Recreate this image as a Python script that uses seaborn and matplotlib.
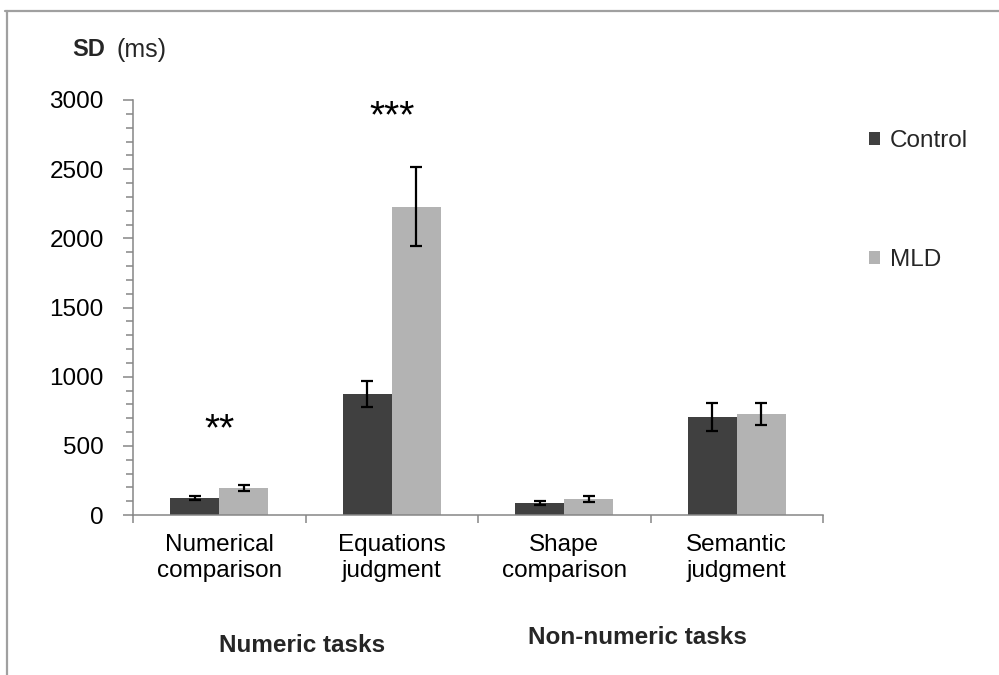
import matplotlib
matplotlib.use("Agg")
import matplotlib.pyplot as plt
from matplotlib.lines import Line2D
from matplotlib.patches import Patch
from matplotlib.ticker import MultipleLocator, FixedLocator
import seaborn as sns
import pandas as pd
import numpy as np

# Response-time variability per task and group
tasks = ["Numerical\ncomparison", "Equations\njudgment", "Shape\ncomparison", "Semantic\njudgment"]
groups = ["Control", "MLD"]
control_sd = [120, 875, 85, 710]
mld_sd = [195, 2230, 115, 728]
control_err = [15, 92, 15, 100]
mld_err = [20, 285, 22, 80]
significance = ["**", "***", "", ""]
star_height = [615, 2873, 0, 0]
y_ticks = [0, 500, 1000, 1500, 2000, 2500, 3000]
task_families = ["Numeric tasks", "Non-numeric tasks"]

colors = {"Control": "#404040", "MLD": "#b3b3b3"}
axis_grey = "#868686"
FS = 17.5

sns.set_theme(style="white")
plt.rcParams["font.family"] = ["Liberation Sans", "DejaVu Sans"]

df = pd.DataFrame({
    "task": tasks * 2,
    "group": ["Control"] * 4 + ["MLD"] * 4,
    "sd": control_sd + mld_sd,
    "err": control_err + mld_err,
})

fig = plt.figure(figsize=(9.99, 6.75), dpi=100)
ax = fig.add_axes([133 / 999, 1 - 515 / 675, 690 / 999, 415 / 675])

sns.barplot(data=df, x="task", y="sd", hue="group", order=tasks, hue_order=groups,
            palette=colors, errorbar=None, width=0.57, saturation=1,
            linewidth=0, ax=ax, legend=False)

# error bars placed on the centres of the drawn bars
bars = [p for p in ax.patches if p.get_height() > 0]
bars_sorted = sorted(bars, key=lambda p: p.get_x())
errs = []
vals = []
for i in range(len(tasks)):
    errs += [control_err[i], mld_err[i]]
    vals += [control_sd[i], mld_sd[i]]
for p, e, v in zip(bars_sorted, errs, vals):
    ax.errorbar(p.get_x() + p.get_width() / 2, v, yerr=e, fmt="none",
                ecolor="black", elinewidth=1.6, capsize=4.5, capthick=1.6, zorder=5)

# significance markers
for i, s in enumerate(significance):
    if s:
        ax.text(i, star_height[i], s, ha="center", va="center", fontsize=28,
                color="black")

ax.set_ylim(0, 3000)
ax.set_xlim(-0.5, len(tasks) - 0.5)
ax.yaxis.set_major_locator(FixedLocator(y_ticks))
ax.yaxis.set_minor_locator(MultipleLocator(100))
ax.set_yticklabels([str(t) for t in y_ticks], fontsize=FS)
ax.tick_params(axis="y", which="major", direction="out", length=7, width=1.1,
               color=axis_grey, pad=14, left=True, labelcolor="black")
ax.tick_params(axis="y", which="minor", direction="out", length=5, width=1.1,
               color=axis_grey, left=True)

ax.set_xticks(range(len(tasks)))
ax.set_xticklabels(tasks, fontsize=FS, linespacing=1.2)
ax.xaxis.set_minor_locator(FixedLocator(np.arange(-0.5, len(tasks), 1.0)))
ax.tick_params(axis="x", which="major", length=0, pad=14, labelcolor="black")
ax.tick_params(axis="x", which="minor", direction="out", length=6, width=1.1,
               color=axis_grey, bottom=True)
ax.set_xlabel("")
ax.set_ylabel("")

for side in ["top", "right"]:
    ax.spines[side].set_visible(False)
for side in ["left", "bottom"]:
    ax.spines[side].set_color(axis_grey)
    ax.spines[side].set_linewidth(1.1)

# axis title
fig.text(72 / 999, 1 - 50 / 675, "SD", fontsize=17, fontweight="bold", va="center", ha="left")
fig.text(116 / 999, 1 - 50 / 675, "(ms)", fontsize=18, va="center", ha="left")

# task family labels
fig.text(302 / 999, 1 - 645 / 675, task_families[0], fontsize=FS, fontweight="bold",
         ha="center", va="center")
fig.text(637 / 999, 1 - 638 / 675, task_families[1], fontsize=FS, fontweight="bold",
         ha="center", va="center")

# legend
handles = [Patch(facecolor=colors[g], edgecolor="none", label=g) for g in groups]
fig.legend(handles=handles, loc="upper left", bbox_to_anchor=(869 / 999, 1 - 130 / 675),
           frameon=False, fontsize=FS, handlelength=0.45, handleheight=0.45,
           handletextpad=0.4, labelspacing=3.98, borderpad=0, borderaxespad=0)

# outer frame lines
fig.add_artist(Line2D([5 / 999, 1.0], [1 - 11 / 675, 1 - 11 / 675], color="#a0a0a0",
                      linewidth=1.6, transform=fig.transFigure))
fig.add_artist(Line2D([7 / 999, 7 / 999], [1 - 11 / 675, 0.0], color="#a0a0a0",
                      linewidth=1.6, transform=fig.transFigure))

fig.savefig("out.png", dpi=100, facecolor="white")
